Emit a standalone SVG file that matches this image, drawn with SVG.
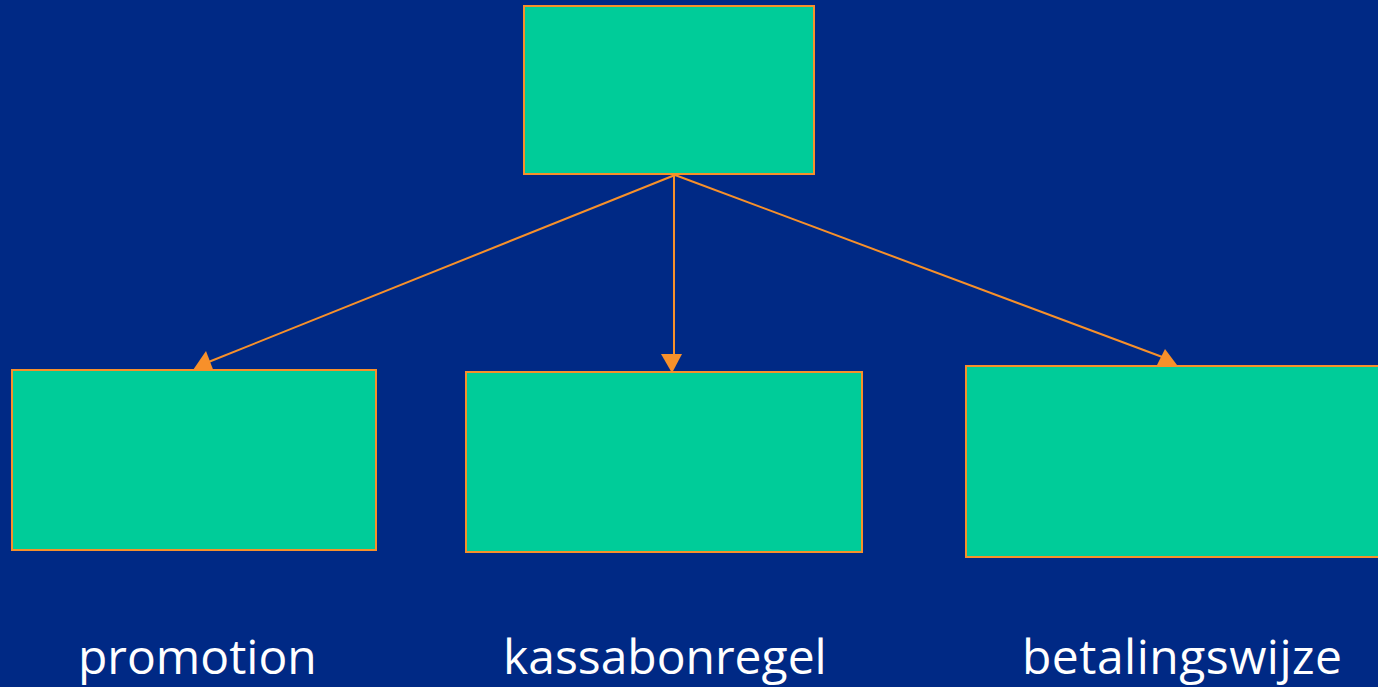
<svg xmlns="http://www.w3.org/2000/svg" width="1378" height="687" viewBox="0 0 1378 687">
<style>
.box{fill:#00cc99;stroke:#f7902a;stroke-width:2}
.ln{stroke:#f7902a;stroke-width:2;fill:none}
.hd{fill:#f7902a}
.lbl{font-family:"Open Sans","Noto Sans",sans-serif;font-size:48px;fill:#ffffff}
</style>
<rect width="1378" height="687" fill="#002985"/>
<g id="connectors">
<line class="ln" x1="675" y1="175" x2="206" y2="363"/>
<polygon class="hd" points="206,351 193,370 214,372"/>
<line class="ln" x1="674" y1="175" x2="674" y2="356"/>
<polygon class="hd" points="661,354 682,354 672,373"/>
<line class="ln" x1="675" y1="175" x2="1165" y2="358"/>
<polygon class="hd" points="1165,349 1155,369 1177,365"/>
</g>
<g id="top"><rect class="box" x="524" y="6" width="290" height="168"/></g>
<g id="promotion"><rect class="box" x="12" y="370" width="364" height="180"/>
<text class="lbl" x="78" y="674">promotion</text></g>
<g id="kassabonregel"><rect class="box" x="466" y="372" width="396" height="180"/>
<text class="lbl" x="503" y="674">kassabonregel</text></g>
<g id="betalingswijze"><rect class="box" x="966" y="366" width="420" height="191"/>
<text class="lbl" x="1022" y="674" textLength="320" lengthAdjust="spacing">betalingswijze</text></g>
</svg>
